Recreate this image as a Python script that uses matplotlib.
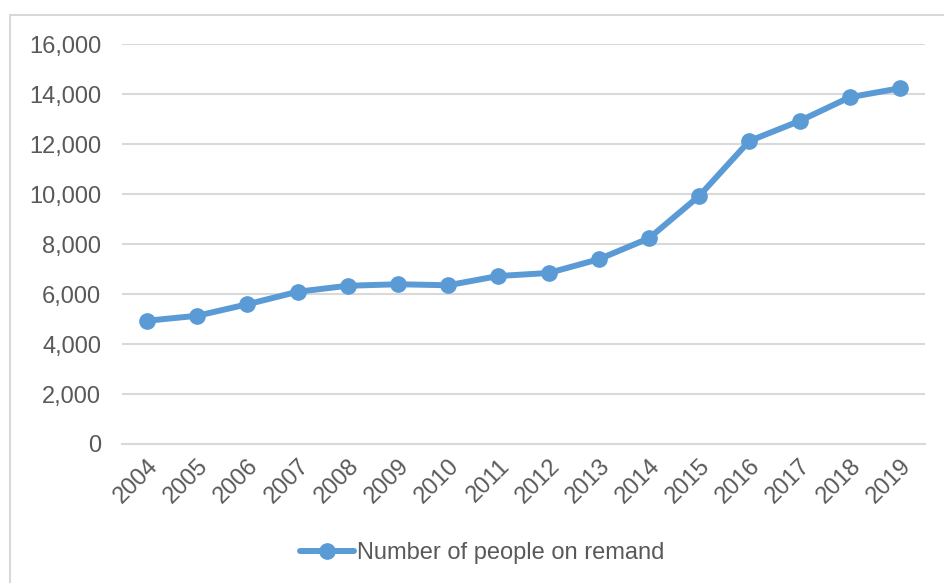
import matplotlib.pyplot as plt
from matplotlib.patches import Rectangle
from matplotlib.ticker import FuncFormatter
from matplotlib.transforms import ScaledTranslation

# Data
years = ["2004", "2005", "2006", "2007", "2008", "2009", "2010", "2011",
         "2012", "2013", "2014", "2015", "2016", "2017", "2018", "2019"]
remand = [4930, 5130, 5590, 6090, 6330, 6390, 6350, 6720,
          6840, 7390, 8230, 9920, 12120, 12920, 13870, 14230]

blue = "#5B9BD5"
grid_col = "#D9D9D9"
text_col = "#595959"

plt.rcParams["font.family"] = ["Liberation Sans", "DejaVu Sans"]

fig = plt.figure(figsize=(9.44, 5.83), dpi=100)
ax = fig.add_axes([122 / 944, 139 / 583, 803 / 944, 400 / 583])

# chart border (only left and top fall inside the picture)
fig.patches.append(Rectangle((10 / 944, -0.1), 1.2, (583 - 15) / 583 + 0.1,
                             transform=fig.transFigure, fill=False,
                             edgecolor=grid_col, linewidth=1.5, zorder=0))

x = range(len(years))
ax.plot(x, remand, color=blue, linewidth=4.3, marker="o", markersize=11,
        label="Number of people on remand", solid_capstyle="round", zorder=3)

ax.set_xlim(-0.5, len(years) - 0.5)
ax.set_ylim(0, 16000)
ax.set_yticks(range(0, 16001, 2000))
ax.yaxis.set_major_formatter(FuncFormatter(lambda v, p: f"{int(v):,}"))
ax.set_xticks(list(x))
ax.set_xticklabels(years, rotation=45, ha="right", va="top", rotation_mode="anchor")
shift = ScaledTranslation(-6 / 100, 0, fig.dpi_scale_trans)
for lab in ax.get_xticklabels():
    lab.set_transform(lab.get_transform() + shift)

ax.grid(axis="y", color=grid_col, linewidth=1.5)
ax.set_axisbelow(True)
for s in ["top", "right", "left"]:
    ax.spines[s].set_visible(False)
ax.spines["bottom"].set_color(grid_col)
ax.spines["bottom"].set_linewidth(1.5)
ax.tick_params(axis="both", length=0, labelsize=17, labelcolor=text_col)
ax.tick_params(axis="y", pad=15)
ax.tick_params(axis="x", pad=8)

leg = fig.legend(loc="center", bbox_to_anchor=(482 / 944, 1 - 553 / 583),
                 frameon=False, fontsize=17, handlelength=2.3, handletextpad=0.1)
for t in leg.get_texts():
    t.set_color(text_col)

fig.savefig("out.png", dpi=100)
